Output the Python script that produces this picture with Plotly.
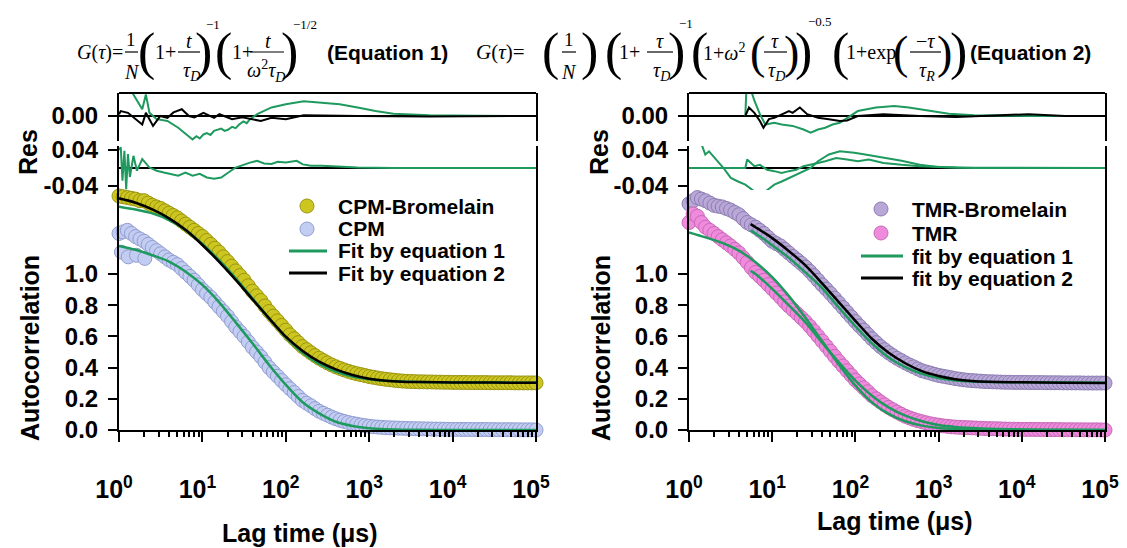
import plotly.graph_objects as go

# page body has an 8px margin: the figure is drawn 8px in from the top-left corner
OFF = 8
FW, FH = 1127 - OFF, 548 - OFF
def px(p): return (p - OFF) / FW
def py(p): return 1 - (p - OFF) / FH

# ---------------- data ----------------
LAG = [1, 1.12, 1.26, 1.41, 1.58, 1.78, 2.0, 2.24, 2.51, 2.82, 3.16, 3.55, 3.98, 4.47, 5.01, 5.62, 6.31, 7.08, 7.94, 8.91,
       10, 11.2, 12.6, 14.1, 15.8, 17.8, 20.0, 22.4, 25.1, 28.2, 31.6, 35.5, 39.8, 44.7, 50.1, 56.2, 63.1, 70.8, 79.4, 89.1,
       100, 112, 126, 141, 158, 178, 200, 224, 251, 282, 316, 355, 398, 447, 501, 562, 631, 708, 794, 891,
       1000, 1120, 1260, 1410, 1580, 1780, 2000, 2240, 2510, 2820, 3160, 3550, 3980, 4470, 5010, 5620, 6310, 7080, 7940, 8910,
       10000, 11200, 12600, 14100, 15800, 17800, 20000, 22400, 25100, 28200, 31600, 35500, 39800, 44700, 50100, 56200,
       63100, 70800, 79400, 89100, 100000]

CPM_BROMELAIN = [1.50, 1.495, 1.49, 1.485, 1.48, 1.47, 1.47, 1.455, 1.44, 1.43, 1.42, 1.405, 1.39, 1.375, 1.36, 1.34, 1.32, 1.30, 1.28, 1.26,
                 1.24, 1.215, 1.19, 1.165, 1.14, 1.11, 1.08, 1.05, 1.02, 0.99, 0.96, 0.925, 0.89, 0.86, 0.83, 0.795, 0.76, 0.73, 0.70, 0.67,
                 0.64, 0.61, 0.585, 0.56, 0.535, 0.515, 0.495, 0.477, 0.46, 0.445, 0.43, 0.417, 0.405, 0.395, 0.385, 0.376, 0.368, 0.361, 0.355, 0.349,
                 0.343, 0.338, 0.333, 0.329, 0.325, 0.322, 0.319, 0.316, 0.314, 0.312, 0.311, 0.310, 0.309, 0.309, 0.308, 0.308, 0.307, 0.307, 0.306, 0.306,
                 0.305, 0.305, 0.305, 0.305, 0.304, 0.304, 0.304, 0.304, 0.304, 0.303, 0.303, 0.303, 0.303, 0.303, 0.303, 0.302, 0.302, 0.302, 0.302, 0.302, 0.302]
CPM = [1.26, 1.27, 1.28, 1.26, 1.24, 1.225, 1.21, 1.19, 1.17, 1.15, 1.13, 1.11, 1.09, 1.075, 1.06, 1.035, 1.01, 0.985, 0.96, 0.93,
       0.90, 0.875, 0.85, 0.82, 0.79, 0.76, 0.73, 0.695, 0.66, 0.63, 0.60, 0.565, 0.53, 0.50, 0.47, 0.435, 0.40, 0.372, 0.345, 0.317,
       0.29, 0.265, 0.24, 0.215, 0.19, 0.172, 0.155, 0.137, 0.12, 0.107, 0.095, 0.083, 0.072, 0.063, 0.055, 0.048, 0.042, 0.037, 0.032, 0.028,
       0.024, 0.021, 0.019, 0.017, 0.015, 0.014, 0.013, 0.012, 0.011, 0.010, 0.009, 0.0085, 0.008, 0.0075, 0.007, 0.0065, 0.006, 0.0055, 0.005, 0.0045,
       0.004, 0.004, 0.004, 0.0035, 0.0035, 0.003, 0.003, 0.003, 0.003, 0.0025, 0.0025, 0.002, 0.002, 0.002, 0.002, 0.0015, 0.0015, 0.001, 0.001, 0.001, 0.0]
CPM_EXTRA_LAG = [1.07, 1.29, 1.62, 2.04]
CPM_EXTRA = [1.14, 1.11, 1.12, 1.10]

TMR_BROMELAIN = [1.45, 1.47, 1.49, 1.48, 1.47, 1.455, 1.44, 1.435, 1.43, 1.42, 1.41, 1.395, 1.38, 1.355, 1.33, 1.315, 1.30, 1.28, 1.26, 1.235,
                 1.21, 1.195, 1.18, 1.158, 1.135, 1.112, 1.09, 1.068, 1.045, 1.018, 0.99, 0.96, 0.93, 0.903, 0.875, 0.845, 0.815, 0.785, 0.755, 0.725,
                 0.695, 0.667, 0.64, 0.612, 0.585, 0.56, 0.535, 0.515, 0.495, 0.477, 0.46, 0.445, 0.43, 0.417, 0.405, 0.392, 0.38, 0.372, 0.365, 0.357,
                 0.35, 0.345, 0.34, 0.335, 0.33, 0.326, 0.322, 0.319, 0.317, 0.315, 0.313, 0.311, 0.31, 0.309, 0.308, 0.307, 0.306, 0.306, 0.305, 0.305,
                 0.305, 0.305, 0.304, 0.304, 0.304, 0.304, 0.303, 0.303, 0.303, 0.303, 0.302, 0.302, 0.302, 0.302, 0.302, 0.301, 0.301, 0.301, 0.301, 0.301, 0.301]
TMR = [1.33, 1.385, 1.37, 1.33, 1.30, 1.28, 1.26, 1.24, 1.22, 1.20, 1.18, 1.158, 1.135, 1.105, 1.075, 1.04, 1.01, 0.985, 0.96, 0.932,
       0.905, 0.878, 0.85, 0.822, 0.795, 0.77, 0.745, 0.72, 0.695, 0.665, 0.635, 0.602, 0.57, 0.537, 0.505, 0.472, 0.44, 0.41, 0.38, 0.35,
       0.32, 0.295, 0.27, 0.245, 0.22, 0.20, 0.18, 0.162, 0.145, 0.13, 0.115, 0.101, 0.088, 0.078, 0.068, 0.06, 0.053, 0.046, 0.04, 0.035,
       0.031, 0.027, 0.024, 0.021, 0.019, 0.017, 0.016, 0.015, 0.014, 0.0125, 0.011, 0.01, 0.009, 0.0085, 0.008, 0.007, 0.006, 0.0055, 0.005, 0.0045,
       0.004, 0.004, 0.004, 0.0035, 0.0035, 0.003, 0.003, 0.003, 0.0025, 0.0025, 0.002, 0.002, 0.002, 0.0015, 0.0015, 0.001, 0.001, 0.001, 0.001, 0.0005, 0.0]

FIT_LAG = [1, 1.58, 2.51, 3.98, 6.31, 10, 15.8, 25.1, 39.8, 63.1, 100,
           158, 251, 398, 631, 1000, 1580, 2510, 3980, 10000, 31600, 100000]
CPMB_EQ1 = [1.432, 1.414, 1.389, 1.346, 1.282, 1.192, 1.09, 0.972, 0.844, 0.716, 0.594,
            0.496, 0.423, 0.374, 0.342, 0.325, 0.315, 0.311, 0.308, 0.305, 0.304, 0.303]
CPMB_EQ2 = [1.485, 1.457, 1.414, 1.357, 1.282, 1.186, 1.079, 0.962, 0.838, 0.716, 0.598,
            0.508, 0.438, 0.389, 0.353, 0.329, 0.316, 0.31, 0.307, 0.305, 0.304, 0.303]
CPM_EQ1 = [1.18, 1.155, 1.12, 1.08, 1.015, 0.93, 0.82, 0.69, 0.556, 0.417, 0.29,
           0.18, 0.107, 0.053, 0.026, 0.011, 0.005, 0.002, 0.001, 0.0, 0.0, 0.0]
TMR_EQ1 = [1.267, 1.235, 1.20, 1.15, 1.075, 0.98, 0.86, 0.72, 0.57, 0.42, 0.284,
           0.177, 0.103, 0.056, 0.028, 0.013, 0.007, 0.004, 0.002, 0.001, 0.0, 0.0]
LATE_FIT_LAG = [5.5, 6.31, 10, 15.8, 25.1, 39.8, 63.1, 100, 158, 251, 398, 631,
                1000, 1580, 2510, 3980, 10000, 31600, 100000]
TMR_EQ2 = [1.02, 1.00, 0.905, 0.80, 0.69, 0.56, 0.434, 0.316, 0.22, 0.145, 0.092, 0.056,
           0.032, 0.02, 0.013, 0.008, 0.004, 0.001, 0.0]
TMRB_EQ1 = [1.28, 1.26, 1.185, 1.105, 1.01, 0.91, 0.785, 0.665, 0.555, 0.465, 0.403, 0.36,
            0.333, 0.318, 0.311, 0.308, 0.306, 0.304, 0.303]
TMRB_EQ2 = [1.32, 1.30, 1.23, 1.148, 1.055, 0.94, 0.82, 0.70, 0.585, 0.495, 0.428, 0.377,
            0.346, 0.326, 0.314, 0.309, 0.306, 0.303, 0.301]

# residuals
RES_CPMB_EQ1_LAG = [1.0, 1.10, 1.41, 1.64, 1.90, 2.10, 2.32, 2.83, 3.81, 5.13,
                    7.62, 8.5, 9.3, 10.3, 11.3, 12.5, 13.8, 16.8, 18.5, 20.5,
                    22.7, 25.0, 27.6, 31.0, 34.0, 37.2, 45.4, 67.4, 100, 164,
                    270, 443, 727, 1190, 1950, 5250, 20000, 100000]
RES_CPMB_EQ1 = [0.060, 0.062, 0.055, 0.033, 0.015, 0.048, 0.007, -0.007, -0.011, -0.026,
                -0.052, -0.045, -0.050, -0.041, -0.038, -0.042, -0.033, -0.028, -0.033, -0.030,
                -0.024, -0.027, -0.019, -0.012, -0.016, -0.007, 0.004, 0.019, 0.026, 0.033,
                0.030, 0.026, 0.019, 0.011, 0.005, 0.0015, 0.0005, 0.0]
RES_CPMB_EQ2_LAG = [1.0, 1.05, 1.28, 1.56, 1.90, 2.10, 2.56, 3.13, 3.81, 4.5,
                    5.66, 6.90, 8.0, 10.3, 13.8, 16.0, 22.7, 30.0, 37.2, 50.1,
                    67.4, 100, 164, 270, 727, 5250, 100000]
RES_CPMB_EQ2 = [0.004, 0.011, 0.007, -0.007, -0.019, 0.007, -0.022, 0.0, -0.004, 0.008,
                0.015, 0.0, -0.003, 0.007, -0.004, 0.004, -0.007, -0.003, -0.006, -0.011,
                -0.004, -0.007, 0.0015, 0.0015, 0.0, -0.001, 0.0]
RES_CPM_EQ1_LAG = [1.0, 1.05, 1.10, 1.16, 1.22, 1.28, 1.35, 1.49, 1.64, 1.90,
                   2.32, 2.83, 3.45, 4.21, 5.13, 6.25, 7.62, 9.29, 11.3, 13.8,
                   16.8, 20.5, 25.0, 37.2, 45.4, 55, 67.4, 80, 100, 135,
                   160, 200, 270, 727, 1950, 100000]
RES_CPM_EQ1 = [0.040, 0.046, -0.028, 0.038, -0.047, 0.031, -0.020, 0.027, -0.006, 0.020,
               0.001, -0.006, -0.010, -0.013, -0.017, -0.010, -0.017, -0.013, -0.021, -0.024,
               -0.021, -0.010, 0.001, 0.012, 0.016, 0.010, 0.009, 0.014, 0.012, 0.016,
               0.008, 0.005, 0.005, 0.001, 0.0, 0.0]

RES_TMRB_EQ1_LAG = [4.75, 4.9, 5.5, 6.11, 7.11, 8.26, 10.6, 13.0, 17.6, 23.8,
                    29.0, 35.5, 43.4, 53.1, 64.9, 79.4, 107, 177, 293, 439,
                    725, 1325, 2680, 12100, 100000]
RES_TMRB_EQ1 = [0.0, 0.06, 0.06, 0.034, 0.004, -0.019, -0.015, -0.019, -0.022, -0.030,
                -0.037, -0.030, -0.026, -0.019, -0.015, -0.004, 0.011, 0.019, 0.022, 0.019,
                0.013, 0.005, 0.0015, 0.0, 0.0]
RES_TMRB_EQ2_LAG = [4.75, 4.9, 5.26, 6.11, 7.11, 7.85, 9.14, 10.6, 13.0, 15.9,
                    17.6, 21.5, 26.3, 35.5, 48.0, 64.9, 79.4, 107, 217, 593,
                    1620, 12100, 33100, 100000]
RES_TMRB_EQ2 = [0.0, 0.007, 0.019, 0.007, -0.011, -0.026, -0.007, -0.004, 0.004, 0.011,
                0.007, 0.019, 0.004, -0.004, -0.007, -0.011, -0.010, 0.0, 0.004, 0.0,
                -0.002, 0.004, 0.0, 0.0]
RES_TMR_EQ1_LAG = [1.42, 1.57, 1.74, 2.13, 2.60, 2.87, 3.18, 3.89, 4.75, 5.81,
                   6.5, 7.8, 8.69, 10.6, 13.0, 19.4, 29.0, 35.5, 48.0, 64.9,
                   97, 131, 177, 217, 359, 593, 980, 2680, 100000]
RES_TMR_EQ1 = [0.052, 0.030, 0.037, 0.019, 0.0, -0.011, -0.022, -0.030, -0.037, -0.049,
               -0.056, -0.056, -0.049, -0.037, -0.030, -0.015, 0.0, 0.015, 0.030, 0.037,
               0.034, 0.030, 0.026, 0.022, 0.016, 0.007, 0.002, 0.0, 0.0]
RES_TMR_EQ2_LAG = [1.0, 4.75, 5.0, 6.11, 7.11, 8.69, 10.6, 13.0, 15.9, 19.4,
                   23.8, 29.0, 35.5, 43.4, 58.7, 79.4, 107, 145, 217, 359,
                   593, 1620, 100000]
RES_TMR_EQ2 = [0.0, 0.0, 0.019, 0.004, 0.007, -0.004, -0.007, -0.011, -0.007, -0.004,
               0.004, 0.007, 0.011, 0.015, 0.022, 0.019, 0.015, 0.019, 0.011, 0.007,
               0.004, 0.001, 0.0]

X_TICKS = [1, 10, 100, 1000, 10000, 100000]
X_TICKTEXT = ["10<sup>0</sup>", "10<sup>1</sup>", "10<sup>2</sup>",
              "10<sup>3</sup>", "10<sup>4</sup>", "10<sup>5</sup>"]
Y_TICKS = [0.0, 0.2, 0.4, 0.6, 0.8, 1.0]
Y_TICKTEXT = ["0.0", "0.2", "0.4", "0.6", "0.8", "1.0"]

# ---------------- styles ----------------
YEL_FILL, YEL_EDGE = "#cdc620", "#9a9512"
BLUE_FILL, BLUE_EDGE = "#c3cdf2", "#909dd0"
LAV_FILL, LAV_EDGE = "#b9a8d7", "#8c7db2"
PINK_FILL, PINK_EDGE = "#f08add", "#c76ab7"
GREEN = "#1e9a5e"
SANS = "Liberation Sans"
SERIF = "Liberation Serif"

fig = go.Figure()

def markers(x, y, fill, edge, xa, ya):
    fig.add_trace(go.Scatter(x=x, y=y, mode="markers", xaxis=xa, yaxis=ya,
                             marker=dict(size=14, color=fill, line=dict(color=edge, width=1)),
                             cliponaxis=False, showlegend=False))

def curve(x, y, color, xa, ya, width=2.5, spline=True):
    fig.add_trace(go.Scatter(x=x, y=y, mode="lines", xaxis=xa, yaxis=ya,
                             line=dict(color=color, width=width,
                                       shape="spline" if spline else "linear", smoothing=0.8),
                             showlegend=False))

# left panel
markers(LAG, CPM_BROMELAIN, YEL_FILL, YEL_EDGE, "x", "y")
markers(LAG + CPM_EXTRA_LAG, CPM + CPM_EXTRA, BLUE_FILL, BLUE_EDGE, "x", "y")
curve(FIT_LAG, CPMB_EQ1, GREEN, "x", "y")
curve(FIT_LAG, CPM_EQ1, GREEN, "x", "y")
curve(FIT_LAG, CPMB_EQ2, "black", "x", "y")
curve(RES_CPMB_EQ1_LAG, RES_CPMB_EQ1, GREEN, "x", "y3", 2, False)
curve(RES_CPMB_EQ2_LAG, RES_CPMB_EQ2, "black", "x", "y3", 2, False)
curve(RES_CPM_EQ1_LAG, RES_CPM_EQ1, GREEN, "x", "y2", 2, False)

# right panel
markers(LAG, TMR_BROMELAIN, LAV_FILL, LAV_EDGE, "x2", "y4")
markers(LAG, TMR, PINK_FILL, PINK_EDGE, "x2", "y4")
curve(FIT_LAG, TMR_EQ1, GREEN, "x2", "y4")
curve(LATE_FIT_LAG, TMR_EQ2, GREEN, "x2", "y4")
curve(LATE_FIT_LAG, TMRB_EQ1, GREEN, "x2", "y4")
curve(LATE_FIT_LAG, TMRB_EQ2, "black", "x2", "y4")
curve(RES_TMRB_EQ1_LAG, RES_TMRB_EQ1, GREEN, "x2", "y6", 2, False)
curve(RES_TMRB_EQ2_LAG, RES_TMRB_EQ2, "black", "x2", "y6", 2, False)
curve(RES_TMR_EQ2_LAG, RES_TMR_EQ2, GREEN, "x2", "y5", 2, False)
curve(RES_TMR_EQ1_LAG, RES_TMR_EQ1, GREEN, "x2", "y5", 2, False)

tickfont = dict(family=SANS, size=24, color="black", weight="bold")
common_line = dict(showline=True, linecolor="black", linewidth=2, showgrid=False,
                   ticks="outside", tickcolor="black", tickwidth=2, ticklen=9,
                   tickfont=tickfont, automargin=False, ticklabelstandoff=5)

MINOR = [m * 10 ** k for k in range(5) for m in range(2, 10)]

def xaxis_def(domain, anchor):
    d = dict(common_line)
    d.update(ticklen=10, ticklabelstandoff=26, ticklabelshift=-5,
             tickfont=dict(family=SANS, size=25, color="black", weight="bold"))
    return dict(type="log", range=[0, 5], domain=domain, anchor=anchor,
                tickvals=X_TICKS, ticktext=X_TICKTEXT, zeroline=False,
                minor=dict(ticks="outside", ticklen=5, tickwidth=1.5, tickcolor="black",
                           tickvals=MINOR, showgrid=False), **d)

def main_y(domain, anchor):
    return dict(domain=domain, anchor=anchor, range=[0, 240 / 156], mirror=True,
                tickvals=Y_TICKS, ticktext=Y_TICKTEXT, zeroline=False, **common_line)

def low_res(domain, anchor):
    return dict(domain=domain, anchor=anchor, range=[-22 / 450, 22 / 450], mirror=True,
                tickvals=[-0.04, 0.04], ticktext=["-0.04", "0.04"],
                zeroline=True, zerolinecolor="black", zerolinewidth=1.5, **common_line)

def up_res(domain, anchor):
    return dict(domain=domain, anchor=anchor, range=[-25 / 450, 23 / 450], mirror=True,
                tickvals=[0.0], ticktext=["0.00"],
                zeroline=True, zerolinecolor="black", zerolinewidth=1.5, **common_line)

LX = [px(119), px(536)]
RX = [px(689), px(1105)]
MAIN_D = [py(430), py(190)]
LOW_D = [py(190), py(146)]
UP_D = [py(141), py(93)]

annotations = []
shapes = []

def T(x, y, text, size=20, family=SERIF, xanchor="center", weight="normal", angle=0):
    annotations.append(dict(x=px(x), y=py(y), xref="paper", yref="paper", text=text,
                            showarrow=False, xanchor=xanchor, yanchor="middle", textangle=angle,
                            font=dict(family=family, size=size, color="black", weight=weight)))

def bar(x0, x1, y, w=1.2, color="black"):
    shapes.append(dict(type="line", xref="paper", yref="paper", x0=px(x0), x1=px(x1),
                       y0=py(y), y1=py(y), line=dict(color=color, width=w)))

def circle(cx, cy, fill, edge, r=7):
    shapes.append(dict(type="circle", xref="paper", yref="paper", x0=px(cx - r), x1=px(cx + r),
                       y0=py(cy + r), y1=py(cy - r), fillcolor=fill, line=dict(color=edge, width=1)))

# top frame lines of residual panels
bar(119, 536, 93, 2)
bar(689, 1105, 93, 2)

# axis titles
for cx in (30, 601):
    T(cx, 348, "Autocorrelation", 25, SANS, weight="bold", angle=-90)
    T(cx - 2, 152, "Res", 25, SANS, weight="bold", angle=-90)
T(300, 533, "Lag time (μs)", 25, SANS, weight="bold")
T(895, 521, "Lag time (μs)", 25, SANS, weight="bold")

# legends
LEFT_LEG = [("CPM-Bromelain", "m", YEL_FILL, YEL_EDGE), ("CPM", "m", BLUE_FILL, BLUE_EDGE),
            ("Fit by equation 1", "l", GREEN, None), ("Fit by equation 2", "l", "black", None)]
RIGHT_LEG = [("TMR-Bromelain", "m", LAV_FILL, LAV_EDGE), ("TMR", "m", PINK_FILL, PINK_EDGE),
             ("fit by equation 1", "l", GREEN, None), ("fit by equation 2", "l", "black", None)]
for items, rows, mx, lx0, lx1, tx in ((LEFT_LEG, (206, 229, 251, 273), 307, 289, 327, 336),
                                      (RIGHT_LEG, (209, 233, 256, 278), 881, 861, 903, 910)):
    for (name, kind, c1, c2), ry in zip(items, rows):
        if kind == "m":
            circle(mx, ry, c1, c2)
        else:
            bar(lx0, lx1, ry, 3, c1)
        T(tx, ry, name, 21, SANS, xanchor="left", weight="bold")

# equation 1
BIG = 52
T(100, 52, "<i>G</i>(<i>τ</i>)=", 20)
T(131, 40, "1", 19); bar(125, 138, 52); T(132, 72, "<i>N</i>", 20)
T(146, 52, "(", BIG)
T(165, 52, "1+", 20)
T(189, 41, "<i>t</i>", 20); bar(178, 200, 52); T(191, 71, "<i>τ</i><sub><i>D</i></sub>", 20)
T(203, 52, ")", BIG)
T(213, 25, "−1", 13)
T(223, 52, "(", BIG)
T(242, 52, "1+", 20)
T(268, 41, "<i>t</i>", 20); bar(250, 284, 52)
T(266, 71, "<i>ω</i><sup>2</sup><i>τ</i><sub><i>D</i></sub>", 20)
T(289, 52, ")", BIG)
T(305, 25, "−1/2", 13)
T(387, 52, "(Equation 1)", 21, SANS, weight="bold")

# equation 2
T(500, 52, "<i>G</i>(<i>τ</i>)=", 21)
T(550, 52, "(", BIG); T(569, 40, "1", 19); bar(562, 576, 52); T(569, 72, "<i>N</i>", 20)
T(589, 52, ")", BIG)
T(613, 52, "(", BIG); T(629, 52, "1+", 20)
T(660, 41, "<i>τ</i>", 20); bar(647, 673, 52); T(661, 71, "<i>τ</i><sub><i>D</i></sub>", 20)
T(676, 52, ")", BIG); T(686, 23, "−1", 13)
T(699, 52, "(", BIG); T(724, 52, "1+<i>ω</i><sup>2</sup>", 20)
T(757, 52, "(", 46); T(775, 41, "<i>τ</i>", 20); bar(764, 787, 52)
T(776, 71, "<i>τ</i><sub><i>D</i></sub>", 20)
T(792, 52, ")", 46); T(803, 52, ")", BIG); T(820, 22, "−0.5", 13)
T(840, 52, "(", BIG); T(871, 52, "1+exp", 20)
T(900, 52, "(", 46); T(925, 41, "−<i>τ</i>", 20); bar(910, 941, 52)
T(927, 71, "<i>τ</i><sub><i>R</i></sub>", 20)
T(944, 52, ")", 46); T(958, 52, ")", BIG)
T(1030, 52, "(Equation 2)", 21, SANS, weight="bold")

fig.update_layout(
    width=FW, height=FH, autosize=False, template="none",
    margin=dict(l=0, r=0, t=0, b=0, pad=0),
    paper_bgcolor="white", plot_bgcolor="rgba(0,0,0,0)",
    showlegend=False,
    xaxis=xaxis_def(LX, "y"),
    xaxis2=xaxis_def(RX, "y4"),
    yaxis=main_y(MAIN_D, "x"),
    yaxis2=low_res(LOW_D, "x"),
    yaxis3=up_res(UP_D, "x"),
    yaxis4=main_y(MAIN_D, "x2"),
    yaxis5=low_res(LOW_D, "x2"),
    yaxis6=up_res(UP_D, "x2"),
    annotations=annotations,
    shapes=shapes,
)

fig.write_html("out.html")
